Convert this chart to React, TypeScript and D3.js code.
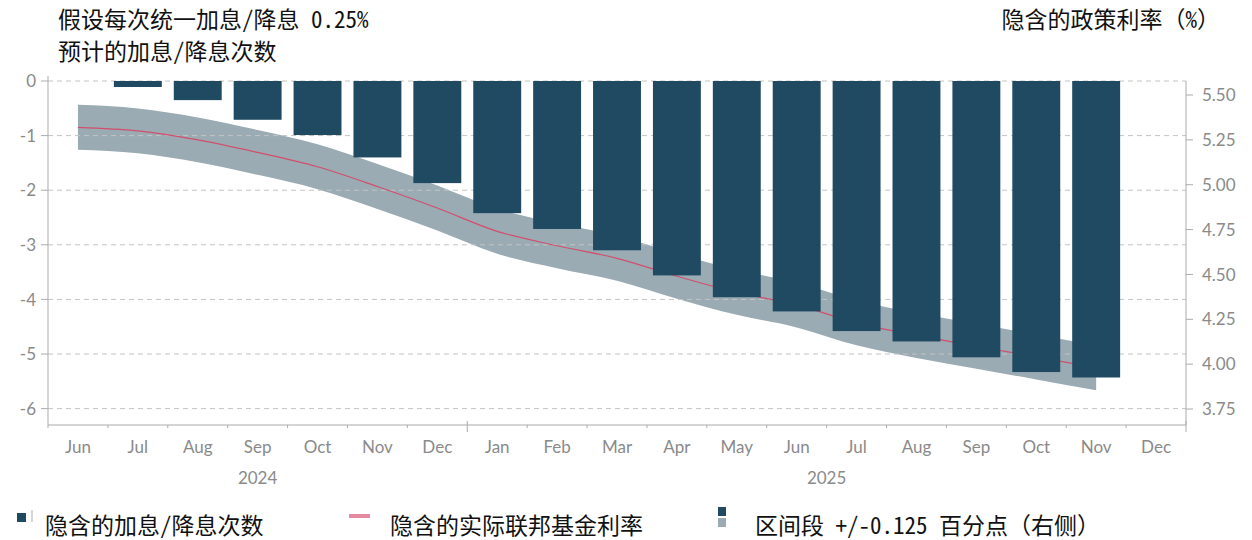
import * as d3 from "d3";

// x categories: Jun 2024 .. Dec 2025
const months = ["Jun", "Jul", "Aug", "Sep", "Oct", "Nov", "Dec", "Jan", "Feb", "Mar", "Apr", "May", "Jun", "Jul", "Aug", "Sep", "Oct", "Nov", "Dec"];
const years = [
  { label: "2024", first: 0, last: 6 },
  { label: "2025", first: 7, last: 18 },
];

// implied number of hikes/cuts (left axis), null = no bar
const hikeCuts = [null, -0.11, -0.35, -0.71, -0.99, -1.4, -1.87, -2.42, -2.71, -3.1, -3.56, -3.96, -4.22, -4.58, -4.77, -5.06, -5.33, -5.43, null];

// implied effective fed funds rate (right axis), null = no value
const impliedRate = [5.32, 5.3, 5.25, 5.18, 5.1, 4.99, 4.87, 4.74, 4.66, 4.59, 4.49, 4.4, 4.33, 4.23, 4.16, 4.1, 4.04, 3.98, null];
const bandHalf = 0.125;

const leftTicks = [0, -1, -2, -3, -4, -5, -6];
const rightTicks = [5.5, 5.25, 5.0, 4.75, 4.5, 4.25, 4.0, 3.75];

const W = 1252;
const H = 540;
const left = 48;
const right = 1186;
const top = 81;
const bottom = 425;

const BAR = "#204a62";
const BAND = "#9aabb4";
const LINE = "#d14f6c";
const AXIS = "#ababab";
const GRID = "#c4c4c4";
const TICKTXT = "#8a8a8a";
const LATIN = "Lato, 'Open Sans', sans-serif";
const CJK = "'Noto Sans Mono CJK SC', 'Noto Sans CJK SC', sans-serif";

export default function App() {
  const keys = months.map((m, i) => `${i}-${m}`);
  const x = d3.scaleBand<string>().domain(keys).range([left, right]).paddingInner(0.2).paddingOuter(0.1);
  const step = x.step();
  const center = (i: number) => (x(keys[i]) ?? 0) + x.bandwidth() / 2;
  const boundary = (i: number) => left + i * step;

  const yL = d3.scaleLinear().domain([-6.3, 0]).range([bottom, top]);
  const yR = d3.scaleLinear().domain([3.661, 5.578]).range([bottom, top]);

  const ratePts = impliedRate
    .map((v, i) => ({ v, i }))
    .filter((d) => d.v !== null) as { v: number; i: number }[];

  const line = d3
    .line<{ v: number; i: number }>()
    .x((d) => center(d.i))
    .y((d) => yR(d.v))
    .curve(d3.curveMonotoneX);
  const area = d3
    .area<{ v: number; i: number }>()
    .x((d) => center(d.i))
    .y0((d) => yR(d.v - bandHalf))
    .y1((d) => yR(d.v + bandHalf))
    .curve(d3.curveMonotoneX);

  return (
    <svg width={W} height={H} style={{ position: "absolute", left: 0, top: 0, background: "#fff" }}>
      {/* titles */}
      <text x={58} y={28} fontFamily={CJK} fontSize={23} fill="#111">假设每次统一加息/降息 0.25%</text>
      <text x={58} y={60} fontFamily={CJK} fontSize={23} fill="#111">预计的加息/降息次数</text>
      <text x={1220} y={28} textAnchor="end" fontFamily={CJK} fontSize={23} fill="#111">隐含的政策利率（%）</text>

      {/* band */}
      <path d={area(ratePts) ?? ""} fill={BAND} />

      {/* grid */}
      {leftTicks.map((t) => (
        <line key={t} x1={left} x2={right} y1={yL(t)} y2={yL(t)} stroke={GRID} strokeDasharray="5,4" />
      ))}

      {/* rate line */}
      <path d={line(ratePts) ?? ""} fill="none" stroke={LINE} strokeWidth={1.2} />

      {/* bars */}
      {hikeCuts.map((v, i) =>
        v === null ? null : (
          <rect key={i} x={x(keys[i])} width={x.bandwidth()} y={yL(0)} height={yL(v) - yL(0)} fill={BAR} />
        )
      )}

      {/* left axis */}
      <line x1={left} x2={left} y1={76} y2={bottom} stroke={AXIS} />
      {leftTicks.map((t) => (
        <g key={t} transform={`translate(0,${yL(t)})`}>
          <line x1={left - 7} x2={left} stroke={AXIS} />
          <text x={left - 12} dy="0.36em" textAnchor="end" fontFamily={LATIN} fontSize={17} fill={TICKTXT}>
            {t === 0 ? "0" : `-${Math.abs(t)}`}
          </text>
        </g>
      ))}

      {/* right axis */}
      <line x1={right} x2={right} y1={top} y2={bottom} stroke={AXIS} />
      {rightTicks.map((t) => (
        <g key={t} transform={`translate(0,${yR(t)})`}>
          <line x1={right} x2={right + 7} stroke={AXIS} />
          <text x={right + 16} dy="0.36em" fontFamily={LATIN} fontSize={17} fill={TICKTXT}>
            {t.toFixed(2)}
          </text>
        </g>
      ))}

      {/* x axis */}
      <line x1={left} x2={right} y1={bottom} y2={bottom} stroke={AXIS} />
      {months.concat([""]).map((_, i) => {
        const yearEdge = i === years[1].first || i === months.length;
        return (
          <line key={i} x1={boundary(i)} x2={boundary(i)} y1={yearEdge ? bottom - 4 : bottom} y2={yearEdge ? bottom + 7 : bottom + 3} stroke={AXIS} />
        );
      })}
      {months.map((m, i) => (
        <text key={i} x={center(i)} y={453} textAnchor="middle" fontFamily={LATIN} fontSize={17} fill={TICKTXT}>
          {m}
        </text>
      ))}
      {years.map((yr) => (
        <text key={yr.label} x={(boundary(yr.first) + boundary(yr.last + 1)) / 2} y={484} textAnchor="middle" fontFamily={LATIN} fontSize={17} fill={TICKTXT}>
          {yr.label}
        </text>
      ))}

      {/* legend */}
      <g>
        <rect x={17} y={513} width={9} height={9} fill={BAR} />
        <line x1={32} x2={32} y1={510} y2={522} stroke="#c8c8c8" strokeWidth={1.5} />
        <text x={45} y={534} fontFamily={CJK} fontSize={23} fill="#111">隐含的加息/降息次数</text>

        <line x1={349} x2={370} y1={516} y2={516} stroke="#e48aa0" strokeWidth={4} />
        <text x={390} y={534} fontFamily={CJK} fontSize={23} fill="#111">隐含的实际联邦基金利率</text>

        <rect x={718} y={507} width={8} height={9} fill={BAR} />
        <rect x={718} y={518} width={8} height={9} fill={BAND} />
        <text x={755} y={534} fontFamily={CJK} fontSize={23} fill="#111">区间段 +/-0.125 百分点（右侧）</text>
      </g>
    </svg>
  );
}
